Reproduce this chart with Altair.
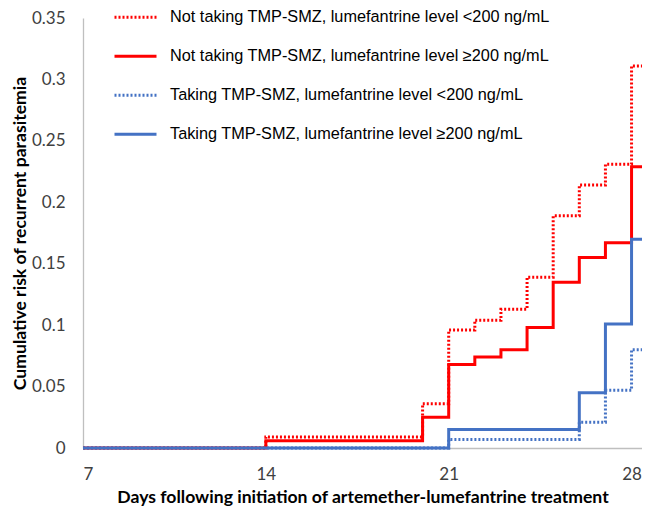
import altair as alt
import pandas as pd

days = [7, 14, 20, 21, 22, 23, 24, 25, 26, 27, 28]
x_end = 28.4

series_names = [
    "Not taking TMP-SMZ, lumefantrine level <200 ng/mL",
    "Not taking TMP-SMZ, lumefantrine level \u2265200 ng/mL",
    "Taking TMP-SMZ, lumefantrine level <200 ng/mL",
    "Taking TMP-SMZ, lumefantrine level \u2265200 ng/mL",
]
red_dotted = [0, 0.009, 0.036, 0.096, 0.104, 0.113, 0.139, 0.189, 0.214, 0.231, 0.311]
red_solid = [0, 0.006, 0.025, 0.068, 0.074, 0.080, 0.098, 0.135, 0.155, 0.167, 0.229]
blue_dotted = [0, 0, 0, 0.007, 0.007, 0.007, 0.007, 0.007, 0.021, 0.047, 0.080]
blue_solid = [0, 0, 0, 0.015, 0.015, 0.015, 0.015, 0.015, 0.045, 0.101, 0.170]

colors = ["#FF0000", "#FF0000", "#4472C4", "#4472C4"]
dashes = [[2, 2], [1, 0], [2, 2], [1, 0]]

rows = []
for order, (name, vals) in enumerate(zip(series_names, [red_dotted, red_solid, blue_dotted, blue_solid])):
    xs = days + [x_end]
    ys = vals + [vals[-1]]
    for x, y in zip(xs, ys):
        rows.append({"series": name, "day": x, "risk": y, "ord": order})
df = pd.DataFrame(rows)

legend_cfg = dict(orient="none", legendX=30, legendY=-20, title=None,
                  symbolType="stroke", symbolSize=1764, symbolStrokeWidth=3,
                  labelFont="Liberation Sans", labelFontSize=16.3, labelColor="#000000",
                  clipHeight=38.3, rowPadding=0, labelOffset=12, labelLimit=600)

chart = alt.Chart(df).mark_line(interpolate="step-after", strokeWidth=3, strokeCap="butt").encode(
    x=alt.X("day:Q", scale=alt.Scale(domain=[7, x_end], nice=False, zero=False),
            axis=alt.Axis(values=[7, 14, 21, 28], title="Days following initiation of artemether-lumefantrine treatment",
                          labelPadding=18, titlePadding=6)),
    y=alt.Y("risk:Q", scale=alt.Scale(domain=[0, 0.35], nice=False),
            axis=alt.Axis(values=[0, 0.05, 0.1, 0.15, 0.2, 0.25, 0.3, 0.35], format=".2~f",
                          title="Cumulative risk of recurrent parasitemia", labelPadding=18, titlePadding=2)),
    color=alt.Color("series:N", scale=alt.Scale(domain=series_names, range=colors),
                    legend=alt.Legend(**legend_cfg)),
    strokeDash=alt.StrokeDash("series:N", scale=alt.Scale(domain=series_names, range=dashes),
                              legend=alt.Legend(**legend_cfg)),
    detail="ord:O",
    order="ord:O",
).properties(
    width=559, height=430, autosize="none",
    padding={"left": 75, "top": 10, "right": 0, "bottom": 60},
).configure_view(stroke=None).configure_axis(
    grid=False, ticks=False, domainColor="#BFBFBF", domainWidth=1.3,
    labelFont="Lato", labelFontSize=17, labelColor="#404040",
    titleFont="Lato", titleFontSize=17.6, titleFontWeight="bold", titleColor="#000000",
)

chart.save("out.html", embed_options={"renderer": "svg", "actions": False})
